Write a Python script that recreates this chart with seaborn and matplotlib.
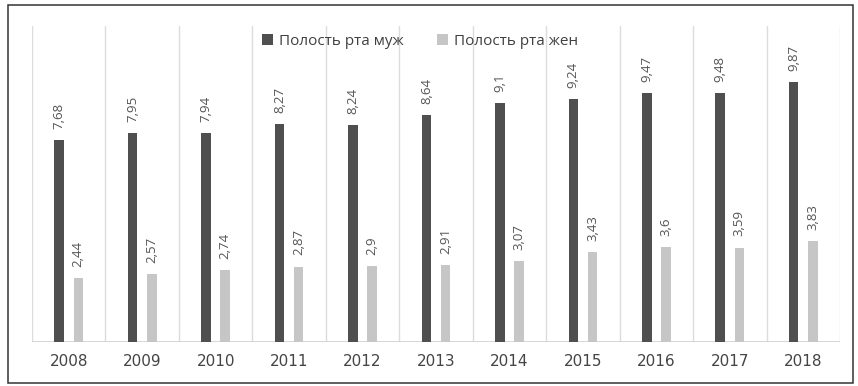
import matplotlib
matplotlib.use("Agg")
import matplotlib.pyplot as plt
from matplotlib.patches import Rectangle
import seaborn as sns
import pandas as pd

years = ["2008", "2009", "2010", "2011", "2012", "2013", "2014", "2015", "2016", "2017", "2018"]
male = [7.68, 7.95, 7.94, 8.27, 8.24, 8.64, 9.1, 9.24, 9.47, 9.48, 9.87]
female = [2.44, 2.57, 2.74, 2.87, 2.9, 2.91, 3.07, 3.43, 3.6, 3.59, 3.83]
series = ["Полость рта муж", "Полость рта жен"]
colors = ["#4f4f4f", "#c6c6c6"]

df = pd.DataFrame({
    "year": years * 2,
    "value": male + female,
    "series": [series[0]] * len(years) + [series[1]] * len(years),
})

sns.set_theme(style="white")
plt.rcParams["font.family"] = ["Open Sans", "DejaVu Sans"]

fig = plt.figure(figsize=(8.58, 3.86), dpi=100)
ax = fig.add_axes([32 / 858, 1 - 342 / 386, (840 - 32) / 858, (342 - 26.4) / 386])

sns.barplot(data=df, x="year", y="value", hue="series", hue_order=series,
            palette=colors, width=0.52, gap=0.5, ax=ax, saturation=1,
            edgecolor="none", linewidth=0)

# value labels
for cont, vals in zip(ax.containers, [male, female]):
    labs = [str(v).replace(".", ",") for v in vals]
    ax.bar_label(cont, labels=labs, rotation=90, padding=8, fontsize=9.5,
                 color="#555555")

ax.set_ylim(0, 12)
ax.set_xlim(-0.5, len(years) - 0.5)
for k in range(len(years) + 1):
    ax.axvline(k - 0.5, color="#dcdcdc", lw=1, zorder=0)
ax.axhline(0, color="#cfcfcf", lw=1.2, zorder=0.5)

for s in ax.spines.values():
    s.set_visible(False)
ax.set_yticks([])
ax.set_xlabel("")
ax.set_ylabel("")
ax.set_xticks(range(len(years)))
ax.set_xticklabels(years, fontfamily="DejaVu Sans", fontsize=11, color="#444444")
ax.tick_params(axis="x", length=0, pad=9)

leg = ax.legend(loc="upper center", bbox_to_anchor=(0.48, 1.0), ncol=2,
                frameon=False, fontsize=11, handlelength=0.7, handleheight=0.7,
                handletextpad=0.4, columnspacing=2.2, borderaxespad=0.1)
for t in leg.get_texts():
    t.set_color("#404040")

fig.patches.append(Rectangle((8 / 858, 3 / 386), (853 - 8) / 858, (381 - 3) / 386,
                             transform=fig.transFigure, fill=False,
                             edgecolor="#333333", lw=1.1))

fig.savefig("out.png", dpi=100)
